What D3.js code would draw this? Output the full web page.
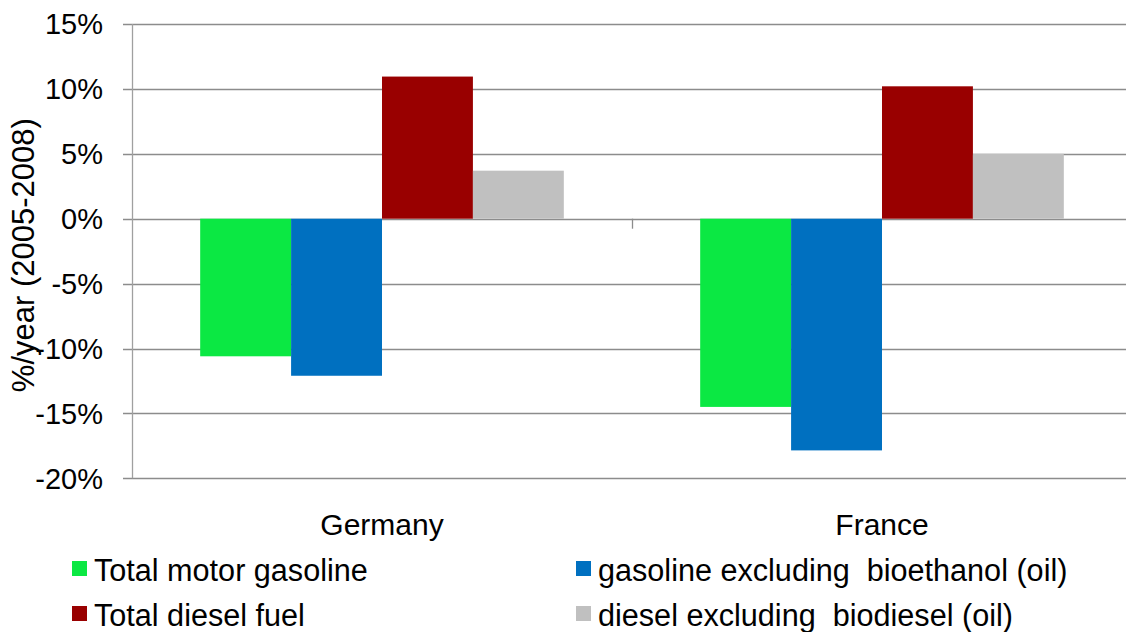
<!DOCTYPE html>
<html>
<head>
<meta charset="utf-8">
<script src="https://cdn.jsdelivr.net/npm/d3@7"></script>
<style>
  html, body { margin: 0; padding: 0; background: #fff; }
  svg { display: block; font-family: "Liberation Sans", Arial, sans-serif; }
  text { white-space: pre; }
</style>
</head>
<body>
<svg id="chart" width="1126" height="632"></svg>
<script>
const categories = ["Germany", "France"];
const seriesNames = [
  "Total motor gasoline",
  "gasoline excluding  bioethanol (oil)",
  "Total diesel fuel",
  "diesel excluding  biodiesel (oil)"
];
const totalGasoline = [-10.6, -14.5];
const gasolineExclBio = [-12.1, -17.85];
const totalDiesel = [10.95, 10.2];
const dieselExclBio = [3.7, 5.0];
const seriesColors = ["#0BE843", "#0070C0", "#990000", "#C0C0C0"];
const yTicks = [15, 10, 5, 0, -5, -10, -15, -20];
const yTitle = "%/year (2005-2008)";

const seriesValues = [totalGasoline, gasolineExclBio, totalDiesel, dieselExclBio];

const svg = d3.select("#chart");
const plotLeft = 132, plotRight = 1132, plotTop = 24, plotBottom = 478.3;

const y = d3.scaleLinear().domain([-20, 15]).range([plotBottom, plotTop]);
const x0 = d3.scaleBand().domain(categories).range([plotLeft, plotRight]).paddingInner(0).paddingOuter(0);
const x1 = d3.scaleBand().domain(d3.range(seriesNames.length)).range([0, x0.bandwidth()]).paddingInner(0).paddingOuter(0.75);

const grid = "#8C8C8C";

// gridlines
svg.append("g").selectAll("line").data(yTicks).join("line")
  .attr("x1", plotLeft - 9).attr("x2", plotRight)
  .attr("y1", d => Math.round(y(d)) + 0.5).attr("y2", d => Math.round(y(d)) + 0.5)
  .attr("stroke", grid).attr("stroke-width", 1.3);

// vertical axis line
svg.append("line")
  .attr("x1", plotLeft + 0.5).attr("x2", plotLeft + 0.5)
  .attr("y1", y(15)).attr("y2", y(-20))
  .attr("stroke", "#A0A0A0").attr("stroke-width", 1.3);

// y tick labels
svg.append("g").selectAll("text").data(yTicks).join("text")
  .attr("x", 103).attr("y", d => y(d))
  .attr("dy", "0.36em")
  .attr("text-anchor", "end")
  .attr("font-size", 29)
  .attr("fill", "#000")
  .text(d => d + "%");

// y title
svg.append("text")
  .attr("transform", `translate(34, ${(plotTop + plotBottom) / 2 + 4}) rotate(-90)`)
  .attr("text-anchor", "middle")
  .attr("font-size", 31)
  .attr("fill", "#000")
  .text(yTitle);

// bars
const groups = svg.append("g").selectAll("g").data(categories).join("g")
  .attr("transform", c => `translate(${x0(c)},0)`);

groups.selectAll("rect")
  .data((c, ci) => seriesValues.map((vals, si) => ({ si, v: vals[ci] })))
  .join("rect")
  .attr("x", d => x1(d.si))
  .attr("width", x1.bandwidth())
  .attr("y", d => y(Math.max(0, d.v)))
  .attr("height", d => Math.abs(y(d.v) - y(0)))
  .attr("fill", d => seriesColors[d.si]);

// category axis ticks
svg.append("g").selectAll("line").data(categories.slice(1)).join("line")
  .attr("x1", c => Math.round(x0(c)) + 0.5).attr("x2", c => Math.round(x0(c)) + 0.5)
  .attr("y1", y(0)).attr("y2", y(0) + 10)
  .attr("stroke", grid).attr("stroke-width", 1.3);

// category labels
svg.append("g").selectAll("text").data(categories).join("text")
  .attr("x", c => x0(c) + x0.bandwidth() / 2)
  .attr("y", 535)
  .attr("text-anchor", "middle")
  .attr("font-size", 30)
  .attr("fill", "#000")
  .text(c => c);

// legend
const legendPos = [
  { x: 72, y: 561 }, { x: 576, y: 561 },
  { x: 72, y: 606 }, { x: 576, y: 606 }
];
const legend = svg.append("g").selectAll("g").data(seriesNames).join("g")
  .attr("transform", (d, i) => `translate(${legendPos[i].x},${legendPos[i].y})`);
legend.append("rect")
  .attr("width", 15).attr("height", 15)
  .attr("fill", (d, i) => seriesColors[i]);
legend.append("text")
  .attr("x", 22).attr("y", 19.5)
  .attr("font-size", 30.6)
  .attr("fill", "#000")
  .text(d => d);
</script>
</body>
</html>
